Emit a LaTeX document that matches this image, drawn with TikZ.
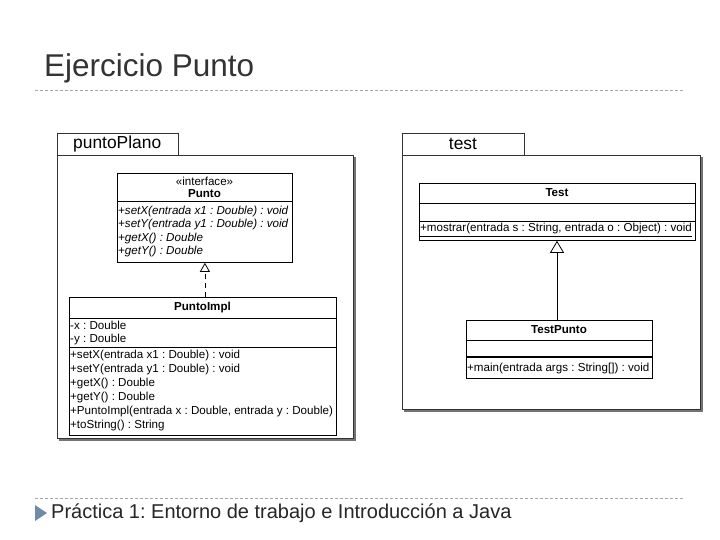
\documentclass[tikz,border=0pt]{standalone}
\usepackage{fontspec}
\setmainfont{Liberation Sans}
\usetikzlibrary{arrows.meta}
\frenchspacing
\begin{document}
\begin{tikzpicture}[x=1pt,y=1pt,
  box/.style={draw, line width=0.8pt, fill=white, anchor=north west, inner sep=0pt},
  pkg/.style={draw=black!80, line width=0.8pt, fill=white, anchor=north west, inner sep=0pt},
  txt/.style={anchor=west, inner sep=0pt, font=\fontsize{11.6}{12}\selectfont},
  ctr/.style={anchor=center, inner sep=0pt, font=\fontsize{11.6}{12}\selectfont},
  sep/.style={dashed, draw=black!35, line width=0.6pt, dash pattern=on 3pt off 2pt},
  shadow/.style={draw=black!55, line width=1.6pt},
  realize/.style={dashed, dash pattern=on 5pt off 4pt, line width=0.8pt, -{Triangle[open, length=9pt, width=10pt]}},
  inherit/.style={line width=0.8pt, -{Triangle[open, length=12pt, width=14pt]}}]
\useasboundingbox[fill=white] (0,0) rectangle (720,-540);
% title
\node[anchor=west, inner sep=0pt, text=black!80, font=\fontsize{31.5}{34}\selectfont] (title) at (44,-68) {Ejercicio Punto};
\draw[sep] (35,-90) coordinate (s1a) -- (685,-90) coordinate (s1b);
\draw[sep] (35,-498) coordinate (s2a) -- (685,-498) coordinate (s2b);
\fill[fill={rgb,255:red,110;green,140;blue,170}] (35,-505) -- (47,-513) -- (35,-521) -- cycle;
\node[anchor=west, inner sep=0pt, text=black!85, font=\fontsize{20}{22}\selectfont] (foot) at (51,-513) {Práctica 1: Entorno de trabajo e Introducción a Java};

% left package
\draw[shadow] (355,-157) -- (355,-440) -- (59,-440);
\node[pkg, minimum width=296, minimum height=283] (lpkg) at (57,-155) {};
\node[pkg, minimum width=121, minimum height=22] (ltab) at (57,-133) {};
\node[anchor=west, inner sep=0pt, font=\fontsize{17.4}{19}\selectfont] (ltabt) at (73,-144) {puntoPlano};

% Punto interface
\node[box, minimum width=175, minimum height=89] (punto) at (117,-173) {};
\draw[line width=0.8pt] (117,-201) -- (292,-201);
\node[ctr] (pst) at (204.5,-181) {«interface»};
\node[ctr, font=\fontsize{11.6}{12}\selectfont\bfseries] (pname) at (204.5,-194) {Punto};
\node[txt, font=\fontsize{11.6}{12}\selectfont\itshape] (pm1) at (118,-211) {+setX(entrada x1 : Double) : void};
\node[txt, font=\fontsize{11.6}{12}\selectfont\itshape] (pm2) at (118,-225) {+setY(entrada y1 : Double) : void};
\node[txt, font=\fontsize{11.6}{12}\selectfont\itshape] (pm3) at (118,-238.5) {+getX() : Double};
\node[txt, font=\fontsize{11.6}{12}\selectfont\itshape] (pm4) at (118,-252) {+getY() : Double};

% PuntoImpl
\node[box, minimum width=267, minimum height=138] (impl) at (69,-297) {};
\draw[line width=0.8pt] (69,-318) -- (336,-318);
\draw[line width=0.8pt] (69,-347) -- (336,-347);
\node[ctr, font=\fontsize{11.6}{12}\selectfont\bfseries] (iname) at (202.5,-307.5) {PuntoImpl};
\node[txt] (ia1) at (70,-325) {-x : Double};
\node[txt] (ia2) at (70,-339) {-y : Double};
\node[txt] (im1) at (70,-355) {+setX(entrada x1 : Double) : void};
\node[txt] (im2) at (70,-369) {+setY(entrada y1 : Double) : void};
\node[txt] (im3) at (70,-383) {+getX() : Double};
\node[txt] (im4) at (70,-397) {+getY() : Double};
\node[txt] (im5) at (70,-411) {+PuntoImpl(entrada x : Double, entrada y : Double)};
\node[txt] (im6) at (70,-425) {+toString() : String};
\draw[realize] (impl.north -| punto.south) -- (punto.south);

% right package
\draw[shadow] (702,-157) -- (702,-411) -- (404,-411);
\node[pkg, minimum width=298, minimum height=254] (rpkg) at (402,-155) {};
\node[pkg, minimum width=122, minimum height=22] (rtab) at (402,-133) {};
\node[anchor=center, inner sep=0pt, font=\fontsize{17.4}{19}\selectfont] (rtabt) at (463,-144) {test};

% Test
\node[box, minimum width=276, minimum height=57] (test) at (419,-183) {};
\draw[line width=0.8pt] (419,-203) -- (695,-203);
\draw[line width=0.8pt] (419,-221) -- (695,-221);
\node[ctr, font=\fontsize{11.6}{12}\selectfont\bfseries] (tname) at (557,-192.5) {Test};
\node[txt] (tm1) at (420,-230) {\underline{+mostrar(entrada s : String, entrada o : Object) : void}};

% TestPunto
\node[box, minimum width=186, minimum height=58] (tp) at (466,-320) {};
\draw[line width=0.8pt] (466,-340) -- (652,-340);
\draw[line width=1.4pt] (466,-357) -- (652,-357);
\node[ctr, font=\fontsize{11.6}{12}\selectfont\bfseries] (tpname) at (559,-330) {TestPunto};
\node[txt] (tpm1) at (467,-368) {+main(entrada args : String[]) : void};
\draw[inherit] (tp.north -| 557,0) -- (test.south -| 557,0);
\end{tikzpicture}
\end{document}
